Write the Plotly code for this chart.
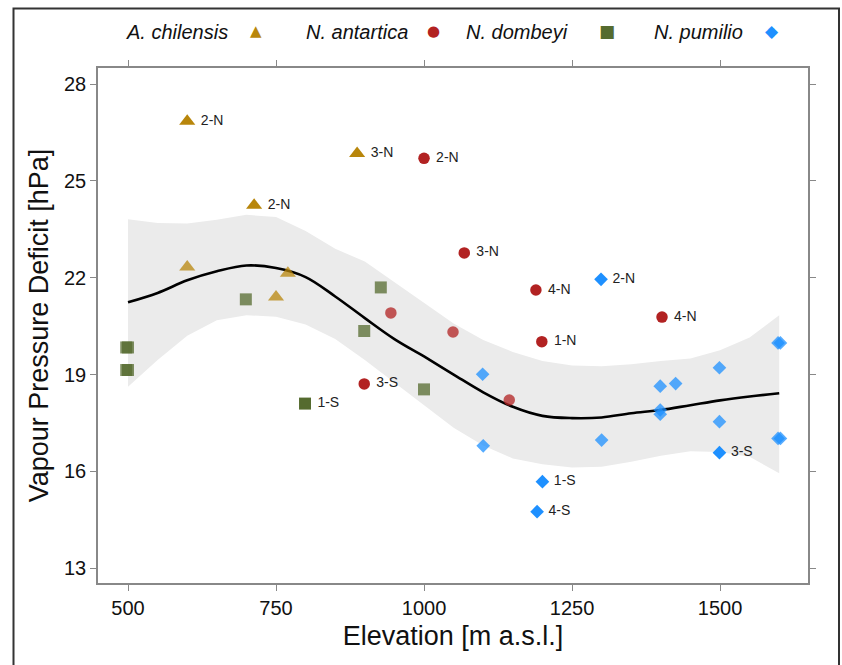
import plotly.graph_objects as go

# ---------------- data ----------------
ach_x = [600, 713, 887, 600, 750, 770]
ach_y = [26.85, 24.25, 25.85, 22.33, 21.4, 22.14]
ach_lab = ["2-N", "2-N", "3-N", "", "", ""]

nan_x = [1000, 1068, 1189, 1199, 1402, 899, 944, 1049, 1144]
nan_y = [25.7, 22.77, 21.62, 20.02, 20.78, 18.71, 20.91, 20.32, 18.21]
nan_lab = ["2-N", "3-N", "4-N", "1-N", "4-N", "3-S", "", "", ""]

dom_x = [799, 497, 500, 497, 500, 699, 927, 899, 1000]
dom_y = [18.1, 19.84, 19.84, 19.14, 19.14, 21.33, 21.7, 20.35, 18.54]
dom_lab = ["1-S", "", "", "", "", "", "", "", ""]

pum_x = [1299, 1200, 1191, 1499, 1099, 1100, 1300, 1399, 1425, 1399, 1399,
         1499, 1499, 1598, 1602, 1598, 1602]
pum_y = [21.95, 15.68, 14.75, 16.58, 19.01, 16.79, 16.97, 18.64, 18.72, 17.9,
         17.77, 19.21, 17.54, 19.98, 19.98, 17.02, 17.02]
pum_lab = ["2-N", "1-S", "4-S", "3-S"] + [""] * 13

fit_x = [500, 550, 600, 650, 700, 750, 800, 850, 900, 950, 1000, 1050, 1100,
         1150, 1200, 1250, 1300, 1350, 1400, 1450, 1500, 1550, 1600]
fit_y = [21.24, 21.53, 21.92, 22.2, 22.38, 22.3, 22.02, 21.42, 20.75, 20.1,
         19.56, 19.0, 18.45, 18.0, 17.72, 17.65, 17.67, 17.8, 17.9, 18.05,
         18.2, 18.32, 18.42]
fit_hi = [23.81, 23.70, 23.68, 23.80, 23.95, 23.88, 23.45, 22.9, 22.5, 21.86,
          21.23, 20.58, 20.07, 19.7, 19.42, 19.28, 19.26, 19.32, 19.42, 19.5,
          19.75, 20.15, 20.84]
fit_lo = [18.62, 19.45, 20.2, 20.68, 20.84, 20.79, 20.55, 20.1, 19.45, 18.75,
          18.05, 17.35, 16.8, 16.4, 16.22, 16.12, 16.14, 16.3, 16.48, 16.62,
          16.6, 16.45, 15.94]

x_ticks = [500, 750, 1000, 1250, 1500]
y_ticks = [13, 16, 19, 22, 25, 28]

species = ["A. chilensis", "N. antartica", "N. dombeyi", "N. pumilio"]
colors = ["#B8860B", "#B22222", "#556B2F", "#1E90FF"]
symbols = ["triangle-up", "circle", "square", "diamond"]
sizes = [14, 11.5, 12, 10.5]
glyphs = ["\u25B2", "\u25CF", "\u25A0", "\u25C6"]

FONT = "Liberation Sans, Arial, sans-serif"

fig = go.Figure()

# confidence band
fig.add_trace(go.Scatter(
    x=fit_x + fit_x[::-1], y=fit_hi + fit_lo[::-1],
    fill="toself", fillcolor="#EBEBEB", line=dict(width=0),
    mode="lines", hoverinfo="skip", showlegend=False))
# fitted line
fig.add_trace(go.Scatter(
    x=fit_x, y=fit_y, mode="lines", line=dict(color="black", width=2.6, shape="spline"),
    showlegend=False))

groups = [(ach_x, ach_y, ach_lab), (nan_x, nan_y, nan_lab),
          (dom_x, dom_y, dom_lab), (pum_x, pum_y, pum_lab)]
for i, (gx, gy, gl) in enumerate(groups):
    op = [1.0 if l else 0.75 for l in gl]
    fig.add_trace(go.Scatter(
        x=gx, y=gy, text=gl, mode="markers+text", name=species[i],
        texttemplate="\u00a0%{text}",
        textposition="middle right",
        textfont=dict(family=FONT, size=14, color="#222222"),
        marker=dict(symbol=symbols[i], size=sizes[i], color=colors[i],
                    opacity=op, line=dict(width=0)),
        showlegend=False))

# plot-area geometry (pixels) for paper conversions
L, R, T, B = 98, 808, 68, 583
def px(xp):
    return (xp - L) / (R - L)
def py(yp):
    return (B - yp) / (B - T)

# legend (text + key glyph)
text_right = [230, 410, 570, 745]
key_x = [256, 433, 607, 772]
glyph_sizes = [15, 15, 17, 17]
for i in range(4):
    fig.add_annotation(xref="paper", yref="paper", x=px(text_right[i]), y=py(32),
                       xanchor="right", yanchor="middle", showarrow=False,
                       text="<i>%s</i>" % species[i],
                       font=dict(family=FONT, size=20, color="#111111"))
    fig.add_annotation(xref="paper", yref="paper", x=px(key_x[i]), y=py(31),
                       xanchor="center", yanchor="middle", showarrow=False,
                       text=glyphs[i],
                       font=dict(family="DejaVu Sans", size=glyph_sizes[i], color=colors[i]))

# outer frame
fig.add_shape(type="rect", xref="paper", yref="paper",
              x0=px(13.5), x1=px(839), y0=py(700), y1=py(8.5),
              line=dict(color="#333333", width=2), layer="above")

axis_common = dict(showgrid=False, zeroline=False, ticks="outside", ticklen=6,
                   tickwidth=1.3, tickcolor="#888888", showline=True,
                   linecolor="#888888", linewidth=1.5, mirror="ticks",
                   tickfont=dict(family=FONT, size=20, color="#111111"))

fig.update_layout(
    width=842, height=665,
    margin=dict(l=L, r=842 - R, t=T, b=665 - B, pad=0),
    paper_bgcolor="white", plot_bgcolor="white",
    xaxis=dict(range=[449.3, 1648.6], tickvals=x_ticks,
               title=dict(text="Elevation [m a.s.l.]",
                          font=dict(family=FONT, size=27, color="#111111"), standoff=8),
               **axis_common),
    yaxis=dict(range=[12.54, 28.5], tickvals=y_ticks,
               title=dict(text="Vapour Pressure Deficit [hPa]",
                          font=dict(family=FONT, size=27, color="#111111"), standoff=8),
               **axis_common),
)

fig.write_html("out.html")
